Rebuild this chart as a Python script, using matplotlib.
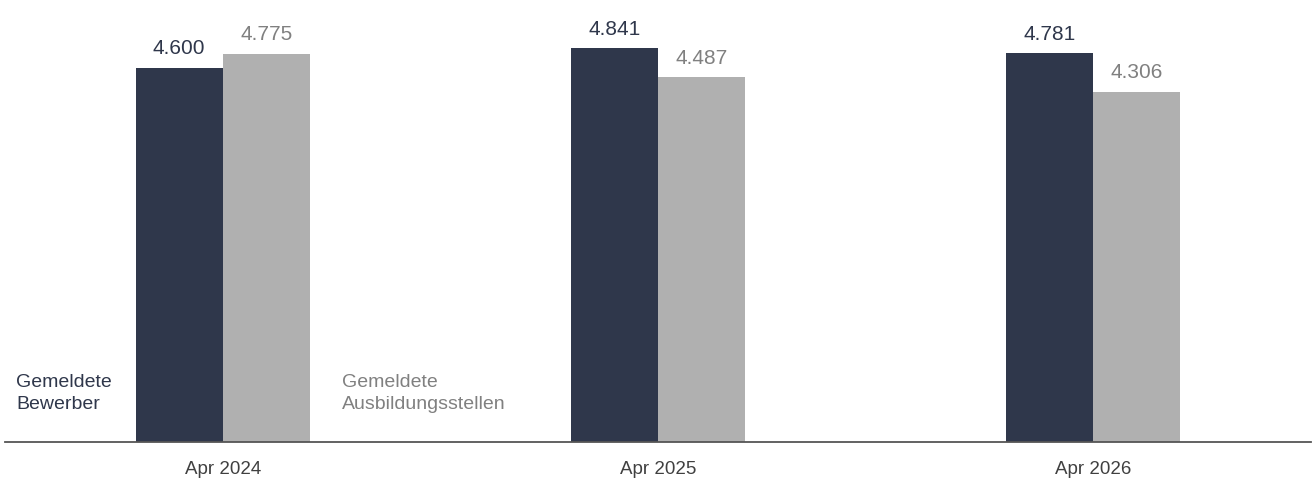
import numpy as np
import matplotlib.pyplot as plt

plt.rcParams['font.family'] = ['Liberation Sans', 'DejaVu Sans']

# data
months = ['Apr 2024', 'Apr 2025', 'Apr 2026']
bewerber = [4600, 4841, 4781]
stellen = [4775, 4487, 4306]

dark = '#2f374b'
grey = '#b0b0b0'

fig = plt.figure(figsize=(13.16, 4.78), dpi=100)
ax = fig.add_axes([5 / 1316, 36 / 478, 1306 / 1316, 442 / 478])

x = np.arange(len(months))
w = 0.2
b1 = ax.bar(x - w / 2, bewerber, w, color=dark)
b2 = ax.bar(x + w / 2, stellen, w, color=grey)

# value labels
for xi, v in zip(x, bewerber):
    ax.annotate(f'{v / 1000:.3f}', (xi - w / 2, v), xytext=(0, 7), textcoords='offset points',
                ha='center', va='bottom', fontsize=15, color=dark)
for xi, v in zip(x, stellen):
    ax.annotate(f'{v / 1000:.3f}', (xi + w / 2, v), xytext=(0, 7), textcoords='offset points',
                ha='center', va='bottom', fontsize=15, color='#808080')

# series names next to first group
ax.annotate('Gemeldete\nBewerber', (x[0] - w, 0), xytext=(-86, 21), textcoords='offset points',
            ha='left', va='bottom', fontsize=14, color=dark, linespacing=1.4)
ax.annotate('Gemeldete\nAusbildungsstellen', (x[0] + w, 0), xytext=(23, 21), textcoords='offset points',
            ha='left', va='bottom', fontsize=14, color='#808080', linespacing=1.4)

ax.set_xlim(-0.5, 2.5)
ax.set_ylim(0, 5437)
ax.set_xticks(x)
ax.set_xticklabels(months, fontsize=13.5, color='#404040')
ax.tick_params(axis='x', length=0, pad=14)
ax.set_yticks([])
for s in ['top', 'right', 'left']:
    ax.spines[s].set_visible(False)
ax.spines['bottom'].set_color('#555555')
ax.spines['bottom'].set_linewidth(1.3)

fig.savefig('out.png', dpi=100)
